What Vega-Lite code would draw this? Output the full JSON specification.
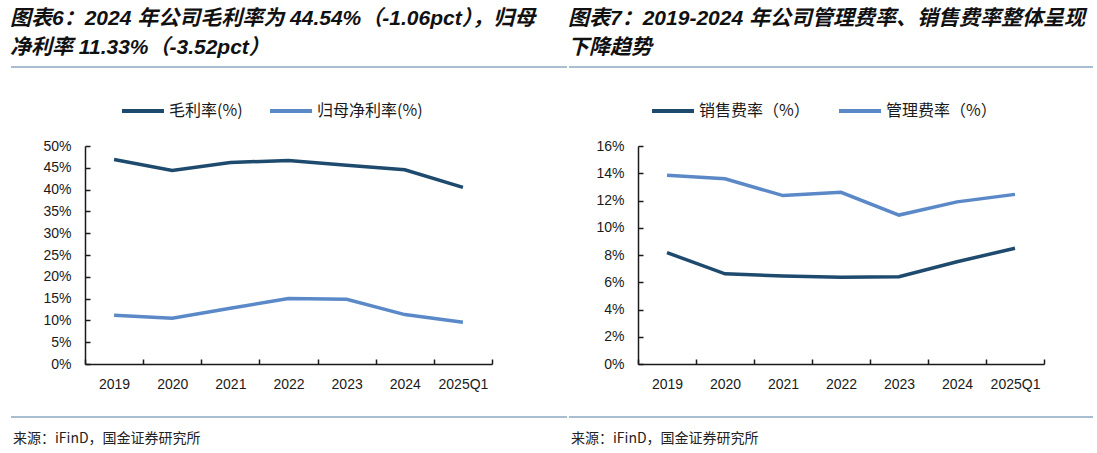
{
  "$schema": "https://vega.github.io/schema/vega-lite/v6.json",
  "padding": {"left": 10, "top": 8, "right": 7, "bottom": 0},
  "background": "white",
  "config": {
    "view": {"stroke": null},
    "font": "Liberation Sans, Noto Sans CJK SC"
  },
  "datasets": {
    "margin": [
      {"period": "2019", "series": "毛利率(%)", "value": 46.9},
      {"period": "2020", "series": "毛利率(%)", "value": 44.4},
      {"period": "2021", "series": "毛利率(%)", "value": 46.2},
      {"period": "2022", "series": "毛利率(%)", "value": 46.7},
      {"period": "2023", "series": "毛利率(%)", "value": 45.6},
      {"period": "2024", "series": "毛利率(%)", "value": 44.54},
      {"period": "2025Q1", "series": "毛利率(%)", "value": 40.5},
      {"period": "2019", "series": "归母净利率(%)", "value": 11.2},
      {"period": "2020", "series": "归母净利率(%)", "value": 10.5},
      {"period": "2021", "series": "归母净利率(%)", "value": 12.8},
      {"period": "2022", "series": "归母净利率(%)", "value": 15.0},
      {"period": "2023", "series": "归母净利率(%)", "value": 14.85},
      {"period": "2024", "series": "归母净利率(%)", "value": 11.33},
      {"period": "2025Q1", "series": "归母净利率(%)", "value": 9.6}
    ],
    "expense": [
      {"period": "2019", "series": "销售费率（%）", "value": 8.17},
      {"period": "2020", "series": "销售费率（%）", "value": 6.62},
      {"period": "2021", "series": "销售费率（%）", "value": 6.45},
      {"period": "2022", "series": "销售费率（%）", "value": 6.37},
      {"period": "2023", "series": "销售费率（%）", "value": 6.4},
      {"period": "2024", "series": "销售费率（%）", "value": 7.5},
      {"period": "2025Q1", "series": "销售费率（%）", "value": 8.5},
      {"period": "2019", "series": "管理费率（%）", "value": 13.86},
      {"period": "2020", "series": "管理费率（%）", "value": 13.6},
      {"period": "2021", "series": "管理费率（%）", "value": 12.36},
      {"period": "2022", "series": "管理费率（%）", "value": 12.6},
      {"period": "2023", "series": "管理费率（%）", "value": 10.93},
      {"period": "2024", "series": "管理费率（%）", "value": 11.9},
      {"period": "2025Q1", "series": "管理费率（%）", "value": 12.45}
    ]
  },
  "spacing": 25,
  "vconcat": [
    {
      "spacing": 12,
      "vconcat": [
        {
          "spacing": 0,
          "hconcat": [
            {
              "width": 556,
              "height": 18,
              "data": {"values": [{"part": "separator"}]},
              "title": {
                "text": ["图表6：2024 年公司毛利率为 44.54%（-1.06pct），归母", "净利率 11.33%（-3.52pct）"],
                "anchor": "start", "fontSize": 21, "fontWeight": "bold", "fontStyle": "italic",
                "lineHeight": 29, "offset": 0, "color": "#111111"
              },
              "mark": {"type": "rule", "color": "#a9bdd0", "strokeWidth": 2},
              "encoding": {
                "x": {"datum": 0, "type": "quantitative", "scale": {"domain": [0, 1], "nice": false, "zero": false}, "axis": null},
                "x2": {"datum": 1}
              }
            },
            {
              "width": 524,
              "height": 18,
              "data": {"values": [{"part": "separator"}]},
              "title": {
                "text": ["图表7：2019-2024 年公司管理费率、销售费率整体呈现", "下降趋势"],
                "anchor": "start", "fontSize": 21, "fontWeight": "bold", "fontStyle": "italic",
                "lineHeight": 29, "offset": 0, "color": "#111111"
              },
              "mark": {"type": "rule", "color": "#a9bdd0", "strokeWidth": 2},
              "encoding": {
                "x": {"datum": 0, "type": "quantitative", "scale": {"domain": [0, 1], "nice": false, "zero": false}, "axis": null},
                "x2": {"datum": 1}
              }
            }
          ]
        },
        {
          "spacing": 0,
          "resolve": {"scale": {"color": "independent"}, "legend": {"color": "independent"}},
          "hconcat": [
            {
              "width": 31,
              "height": 218,
              "data": {"values": [{"part": "spacer"}]},
              "mark": {"type": "text"},
              "encoding": {"text": {"value": ""}}
            },
            {
              "width": 407,
              "height": 218,
              "data": {"name": "margin"},
              "mark": {"type": "line", "strokeWidth": 3.5},
              "encoding": {
                "x": {
                  "field": "period", "type": "nominal",
                  "sort": ["2019", "2020", "2021", "2022", "2023", "2024", "2025Q1"],
                  "scale": {"type": "band", "paddingInner": 0, "paddingOuter": 0},
                  "axis": {
                    "title": null, "tickBand": "extent", "labelAngle": 0, "grid": false,
                    "domainColor": "#1a1a1a", "domainWidth": 1.5, "tickColor": "#1a1a1a", "tickWidth": 1.5, "tickSize": -5,
                    "labelFontSize": 14, "labelColor": "#1a1a1a", "labelPadding": 18, "labelFont": "Liberation Sans"
                  }
                },
                "y": {
                  "field": "value", "type": "quantitative",
                  "scale": {"domain": [0, 50], "nice": false},
                  "axis": {
                    "title": null,
                    "values": [0, 5, 10, 15, 20, 25, 30, 35, 40, 45, 50],
                    "labelExpr": "datum.value + '%'", "grid": false,
                    "domainColor": "#1a1a1a", "domainWidth": 1.5, "tickColor": "#1a1a1a", "tickWidth": 1.5, "tickSize": -5,
                    "labelFontSize": 14, "labelColor": "#1a1a1a", "labelPadding": 19, "labelFont": "Liberation Sans"
                  }
                },
                "color": {
                  "field": "series", "type": "nominal",
                  "scale": {"domain": ["毛利率(%)", "归母净利率(%)"], "range": ["#1e4a6e", "#5b89c8"]},
                  "legend": {
                    "orient": "none", "legendX": 35, "legendY": -58, "direction": "horizontal", "title": null,
                    "symbolType": "stroke", "symbolSize": 1764, "symbolStrokeWidth": 4,
                    "labelFontSize": 16, "labelFont": "Noto Sans CJK SC", "labelColor": "#1a1a1a",
                    "columnPadding": 19, "labelOffset": 3
                  }
                }
              }
            },
            {
              "width": 102,
              "height": 218,
              "data": {"values": [{"part": "spacer"}]},
              "mark": {"type": "text"},
              "encoding": {"text": {"value": ""}}
            },
            {
              "width": 406,
              "height": 218,
              "data": {"name": "expense"},
              "mark": {"type": "line", "strokeWidth": 3.5},
              "encoding": {
                "x": {
                  "field": "period", "type": "nominal",
                  "sort": ["2019", "2020", "2021", "2022", "2023", "2024", "2025Q1"],
                  "scale": {"type": "band", "paddingInner": 0, "paddingOuter": 0},
                  "axis": {
                    "title": null, "tickBand": "extent", "labelAngle": 0, "grid": false,
                    "domainColor": "#1a1a1a", "domainWidth": 1.5, "tickColor": "#1a1a1a", "tickWidth": 1.5, "tickSize": -5,
                    "labelFontSize": 14, "labelColor": "#1a1a1a", "labelPadding": 18, "labelFont": "Liberation Sans"
                  }
                },
                "y": {
                  "field": "value", "type": "quantitative",
                  "scale": {"domain": [0, 16], "nice": false},
                  "axis": {
                    "title": null,
                    "values": [0, 2, 4, 6, 8, 10, 12, 14, 16],
                    "labelExpr": "datum.value + '%'", "grid": false,
                    "domainColor": "#1a1a1a", "domainWidth": 1.5, "tickColor": "#1a1a1a", "tickWidth": 1.5, "tickSize": -5,
                    "labelFontSize": 14, "labelColor": "#1a1a1a", "labelPadding": 19, "labelFont": "Liberation Sans"
                  }
                },
                "color": {
                  "field": "series", "type": "nominal",
                  "scale": {"domain": ["销售费率（%）", "管理费率（%）"], "range": ["#1e4a6e", "#5b89c8"]},
                  "legend": {
                    "orient": "none", "legendX": 12, "legendY": -58, "direction": "horizontal", "title": null,
                    "symbolType": "stroke", "symbolSize": 1764, "symbolStrokeWidth": 4,
                    "labelFontSize": 16, "labelFont": "Noto Sans CJK SC", "labelColor": "#1a1a1a",
                    "columnPadding": 21, "labelOffset": 3
                  }
                }
              }
            }
          ]
        }
      ]
    },
    {
      "spacing": 0,
      "hconcat": [
        {
          "width": 556,
          "height": 2,
          "data": {"values": [{"part": "separator"}]},
          "title": {
            "text": "来源：iFinD，国金证券研究所", "orient": "bottom", "anchor": "start", "dx": 3,
            "fontSize": 14, "fontWeight": "normal", "font": "Noto Sans CJK SC", "color": "#222222", "offset": 14
          },
          "mark": {"type": "rule", "color": "#a9bdd0", "strokeWidth": 2},
          "encoding": {
            "x": {"datum": 0, "type": "quantitative", "scale": {"domain": [0, 1], "nice": false, "zero": false}, "axis": null},
            "x2": {"datum": 1}
          }
        },
        {
          "width": 524,
          "height": 2,
          "data": {"values": [{"part": "separator"}]},
          "title": {
            "text": "来源：iFinD，国金证券研究所", "orient": "bottom", "anchor": "start", "dx": 3,
            "fontSize": 14, "fontWeight": "normal", "font": "Noto Sans CJK SC", "color": "#222222", "offset": 14
          },
          "mark": {"type": "rule", "color": "#a9bdd0", "strokeWidth": 2},
          "encoding": {
            "x": {"datum": 0, "type": "quantitative", "scale": {"domain": [0, 1], "nice": false, "zero": false}, "axis": null},
            "x2": {"datum": 1}
          }
        }
      ]
    }
  ]
}
